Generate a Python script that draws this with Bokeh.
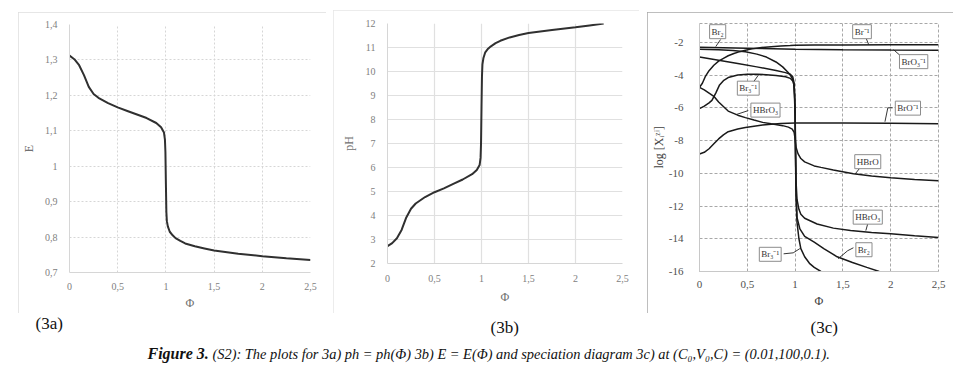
from bokeh.plotting import figure
from bokeh.models import Range1d, FixedTicker, Label
from bokeh.layouts import row, column
from bokeh.embed import file_html
from bokeh.resources import INLINE

SERIF = "Liberation Serif"

# ---------------- data ----------------
phi_ticks = [0, 0.5, 1, 1.5, 2, 2.5]
phi_labels = ["0", "0,5", "1", "1,5", "2", "2,5"]

e_ticks = [0.7, 0.8, 0.9, 1.0, 1.1, 1.2, 1.3, 1.4]
e_labels = ["0,7", "0,8", "0,9", "1", "1,1", "1,2", "1,3", "1,4"]

ph_ticks = [2, 3, 4, 5, 6, 7, 8, 9, 10, 11, 12]
ph_labels = ["2", "3", "4", "5", "6", "7", "8", "9", "10", "11", "12"]

log_ticks = [-16, -14, -12, -10, -8, -6, -4, -2]
log_labels = ["-16", "-14", "-12", "-10", "-8", "-6", "-4", "-2"]

# (3a) E = E(phi)
phi_a = [0, 0.05, 0.1, 0.15, 0.2, 0.25, 0.3, 0.4, 0.5, 0.6, 0.7, 0.8, 0.9, 0.95, 0.98,
         0.99, 0.995, 1.0, 1.005, 1.01, 1.02, 1.04, 1.07, 1.1, 1.15, 1.2, 1.3, 1.4, 1.5,
         1.75, 2.0, 2.25, 2.5]
e_vals = [1.312, 1.302, 1.285, 1.257, 1.224, 1.204, 1.193, 1.178, 1.166, 1.156, 1.146,
          1.136, 1.122, 1.110, 1.095, 1.075, 1.04, 0.95, 0.87, 0.845, 0.83, 0.815, 0.805,
          0.797, 0.789, 0.782, 0.774, 0.768, 0.762, 0.753, 0.746, 0.740, 0.735]

# (3b) pH = pH(phi)
phi_b = [0, 0.05, 0.1, 0.15, 0.2, 0.25, 0.3, 0.4, 0.5, 0.6, 0.7, 0.8, 0.9, 0.95, 0.98,
         0.99, 0.995, 1.0, 1.005, 1.01, 1.02, 1.04, 1.07, 1.1, 1.15, 1.2, 1.3, 1.4, 1.5,
         1.75, 2.0, 2.15, 2.3]
ph_vals = [2.72, 2.85, 3.05, 3.4, 3.92, 4.28, 4.5, 4.77, 4.97, 5.13, 5.32, 5.5, 5.72, 5.9,
           6.1, 6.4, 7.0, 8.5, 9.8, 10.3, 10.55, 10.8, 10.95, 11.05, 11.18, 11.28, 11.42,
           11.52, 11.6, 11.73, 11.84, 11.92, 12.0]

# (3c) speciation, log concentrations
br_x = [0, 0.03, 0.06, 0.1, 0.15, 0.2, 0.26, 0.3, 0.36, 0.42, 0.48, 0.55, 0.65, 0.75,
        0.85, 0.95, 1.0, 1.2, 1.5, 2.0, 2.5]
br_y = [-4.75, -4.5, -4.1, -3.73, -3.4, -3.15, -2.95, -2.82, -2.68, -2.57, -2.48, -2.4,
        -2.32, -2.27, -2.23, -2.2, -2.18, -2.17, -2.16, -2.15, -2.15]

bro3_x = [0, 0.5, 1.0, 1.5, 2.0, 2.5]
bro3_y = [-2.3, -2.36, -2.42, -2.45, -2.47, -2.48]

br2_x = [0, 0.2, 0.35, 0.48, 0.6, 0.7, 0.8, 0.87, 0.92, 0.95, 0.97, 0.985, 0.995, 1.0,
         1.005, 1.01, 1.02, 1.05, 1.1, 1.2, 1.3, 1.44, 1.6, 1.75, 1.88]
br2_y = [-2.42, -2.46, -2.5, -2.58, -2.72, -2.9, -3.2, -3.5, -3.8, -4.0, -4.2, -4.5, -5.2,
         -6.5, -9.0, -11.0, -12.7, -13.4, -13.85, -14.2, -14.6, -15.1, -15.45, -15.75, -16.0]

hbro3_x = [0, 0.2, 0.4, 0.6, 0.8, 0.9, 0.95, 0.975, 0.99, 1.0, 1.005, 1.01, 1.02, 1.04,
           1.06, 1.1, 1.23, 1.4, 1.58, 1.8, 2.0, 2.25, 2.5]
hbro3_y = [-2.9, -3.1, -3.3, -3.5, -3.72, -3.85, -3.95, -4.1, -4.5, -6.0, -8.5, -10.5,
           -11.6, -12.2, -12.5, -12.75, -13.1, -13.35, -13.5, -13.62, -13.7, -13.82, -13.92]

br3_x = [0, 0.05, 0.1, 0.13, 0.17, 0.21, 0.25, 0.3, 0.4, 0.5, 0.6, 0.7, 0.8, 0.9, 0.95,
         0.98, 0.99, 1.0, 1.005, 1.01, 1.02, 1.04, 1.06, 1.1, 1.15, 1.2, 1.27]
br3_y = [-6.05, -5.9, -5.7, -5.55, -5.1, -4.6, -4.34, -4.15, -4.0, -3.95, -3.95, -3.98,
         -4.02, -4.1, -4.2, -4.4, -4.7, -6.5, -9.5, -11.5, -13.0, -14.0, -14.6, -15.1,
         -15.5, -15.75, -16.0]

hbro_x = [0, 0.05, 0.1, 0.15, 0.2, 0.3, 0.4, 0.48, 0.57, 0.66, 0.75, 0.87, 0.93, 0.97,
          0.99, 1.0, 1.01, 1.03, 1.06, 1.1, 1.2, 1.27, 1.4, 1.61, 1.8, 2.0, 2.25, 2.5]
hbro_y = [-4.75, -4.9, -5.1, -5.3, -5.65, -6.2, -6.45, -6.6, -6.75, -6.89, -6.98, -7.09,
          -7.18, -7.3, -7.5, -7.9, -8.4, -8.8, -9.1, -9.3, -9.55, -9.64, -9.8, -10.03,
          -10.17, -10.28, -10.38, -10.45]

bro_x = [0, 0.05, 0.1, 0.15, 0.2, 0.25, 0.3, 0.4, 0.48, 0.57, 0.66, 0.75, 0.85, 1.0,
         1.5, 2.0, 2.5]
bro_y = [-8.82, -8.72, -8.5, -8.2, -7.9, -7.65, -7.46, -7.3, -7.2, -7.12, -7.05, -7.0,
         -6.96, -6.93, -6.93, -6.95, -6.97]

species_curves = [(br_x, br_y), (bro3_x, bro3_y), (br2_x, br2_y), (hbro3_x, hbro3_y),
                  (br3_x, br3_y), (hbro_x, hbro_y), (bro_x, bro_y)]

# call-out labels of the speciation diagram
callout_text = ["Br₂", "Br⁻¹", "BrO₃⁻¹", "Br₃⁻¹", "HBrO₃", "BrO⁻¹", "HBrO", "HBrO₃",
                "Br₂", "Br₃⁻¹"]
callout_pos = [(0.19, -1.35), (1.70, -1.35), (2.24, -3.18), (0.51, -4.8), (0.69, -6.14),
               (2.18, -6.02), (1.76, -9.29), (1.76, -12.68), (1.72, -14.67), (0.74, -14.95)]
leader_xs = [[0.22, 0.17], [1.74, 1.77], [2.10, 2.03], [0.56, 0.62], [0.51, 0.38],
             [2.02, 1.97, 1.94], [1.68, 1.63], [1.76, 1.74], [1.61, 1.55, 1.45],
             [0.88, 0.98, 1.05]]
leader_ys = [[-1.83, -2.26], [-1.71, -2.14], [-2.81, -2.45], [-4.46, -3.97], [-6.17, -6.42],
             [-6.0, -6.0, -6.85], [-9.66, -10.03], [-13.08, -13.5], [-14.55, -14.73, -15.22],
             [-14.92, -14.86, -14.6]]


# ---------------- helpers ----------------
def make_panel(w, h, xr, yr, borders, yticks, ylabels, ytitle, tick_color, tick_size,
               title_color, y_std, y_title_std, x_std, x_title_std):
    left, right, top, bottom = borders
    p = figure(width=w, height=h, x_range=Range1d(*xr), y_range=Range1d(*yr),
               output_backend="svg", toolbar_location=None,
               min_border_left=left, min_border_right=right,
               min_border_top=top, min_border_bottom=bottom,
               background_fill_color="white", border_fill_color="white")
    p.outline_line_color = None
    p.xaxis.ticker = FixedTicker(ticks=phi_ticks)
    p.xaxis.major_label_overrides = dict(zip(phi_ticks, phi_labels))
    p.yaxis.ticker = FixedTicker(ticks=yticks)
    p.yaxis.major_label_overrides = dict(zip(yticks, ylabels))
    for ax in (p.xaxis[0], p.yaxis[0]):
        ax.major_tick_line_color = None
        ax.minor_tick_line_color = None
        ax.major_label_text_font = SERIF
        ax.major_label_text_font_size = tick_size
        ax.major_label_text_color = tick_color
        ax.axis_label_text_font = SERIF
        ax.axis_label_text_font_style = "normal"
        ax.axis_label_text_font_size = "12px"
        ax.axis_label_text_color = title_color
    p.xaxis.axis_label = "Φ"
    p.yaxis.axis_label = ytitle
    p.yaxis.major_label_standoff = y_std
    p.yaxis.axis_label_standoff = y_title_std
    p.xaxis.major_label_standoff = x_std
    p.xaxis.axis_label_standoff = x_title_std
    return p


# ---------------- (3a) ----------------
pa = make_panel(308, 301, (0, 2.5), (0.7, 1.4), (51, 16, 12, 41), e_ticks, e_labels, "E",
                "#808080", "10px", "#707070", 6, 6, 4, 3)
pa.grid.grid_line_color = "#d6d6d6"
pa.grid.grid_line_dash = "2 2"
pa.axis.axis_line_color = "#d6d6d6"
pa.line(phi_a, e_vals, line_color="#303030", line_width=2)
pa.margin = (12, 0, 0, 18)
pa.styles = {"outline": "1px solid #dedede", "outline-offset": "-1px"}

# ---------------- (3b) ----------------
pb = make_panel(306, 303, (0, 2.5), (2, 12), (54, 17, 13, 50), ph_ticks, ph_labels, "pH",
                "#808080", "10px", "#707070", 6, 7, 5, 5)
pb.grid.grid_line_color = "#e0e0e0"
pb.grid.grid_line_width = 1.2
pb.axis.axis_line_color = "#d6d6d6"
pb.line(phi_b, ph_vals, line_color="#303030", line_width=2)
pb.margin = (10, 0, 0, 7)
pb.styles = {"outline": "1px solid #e6e6e6", "outline-offset": "-1px"}

# ---------------- (3c) ----------------
pc = make_panel(306, 301, (0, 2.5), (-16, -0.85), (52, 15, 11, 42), log_ticks, log_labels,
                "log [Xᵢᶻⁱ]", "#505050", "11px", "#404040", 10, 0, 3, 3)
pc.grid.grid_line_color = "#a8a8a8"
pc.grid.grid_line_dash = "3 2"
pc.outline_line_color = "#a8a8a8"
pc.outline_line_dash = "3 2"
pc.axis.axis_line_color = "#c8c8c8"
for xs, ys in species_curves:
    pc.line(xs, ys, line_color="#1a1a1a", line_width=1.5)
pc.multi_line(leader_xs, leader_ys, line_color="#202020", line_width=0.9)
for txt, (lx, ly) in zip(callout_text, callout_pos):
    pc.add_layout(Label(x=lx, y=ly, text=txt, text_font=SERIF, text_font_size="9px",
                        text_color="#333333", text_align="center", text_baseline="middle",
                        background_fill_color="white", border_line_color="#8c8c8c",
                        border_line_width=1, padding=2))
pc.margin = (12, 0, 0, 8)
pc.styles = {"outline": "2px solid #a9a9a9", "outline-offset": "-2px"}

# ---------------- captions ----------------
cap = figure(width=978, height=60, x_range=Range1d(0, 978), y_range=Range1d(60, 0),
             output_backend="svg", toolbar_location=None, min_border=0,
             x_axis_type=None, y_axis_type=None)
cap.grid.visible = False
cap.outline_line_color = None
panel_tags = ["(3a)", "(3b)", "(3c)"]
tag_pos = [(35, 10), (490, 14), (810, 14)]
for t, (tx, ty) in zip(panel_tags, tag_pos):
    cap.add_layout(Label(x=tx, y=ty, text=t, text_font=SERIF, text_font_size="17px",
                         text_color="#111111", text_align="left", text_baseline="middle"))
cap.add_layout(Label(x=147, y=40, text="Figure 3.", text_font=SERIF, text_font_size="16px",
                     text_font_style="bold italic", text_color="#111111",
                     text_align="left", text_baseline="middle"))
cap.add_layout(Label(x=212, y=40,
                     text="(S2): The plots for 3a) ph = ph(Φ) 3b) E = E(Φ) and speciation "
                          "diagram 3c) at (C₀,V₀,C) = (0.01,100,0.1).",
                     text_font=SERIF, text_font_size="14.4px", text_font_style="italic",
                     text_color="#111111", text_align="left", text_baseline="middle"))

# each panel in its own column so that the row does not align the plot frames
layout = column(row(column(pa), column(pb), column(pc)), cap)
open("out.html", "w").write(file_html(layout, INLINE))
